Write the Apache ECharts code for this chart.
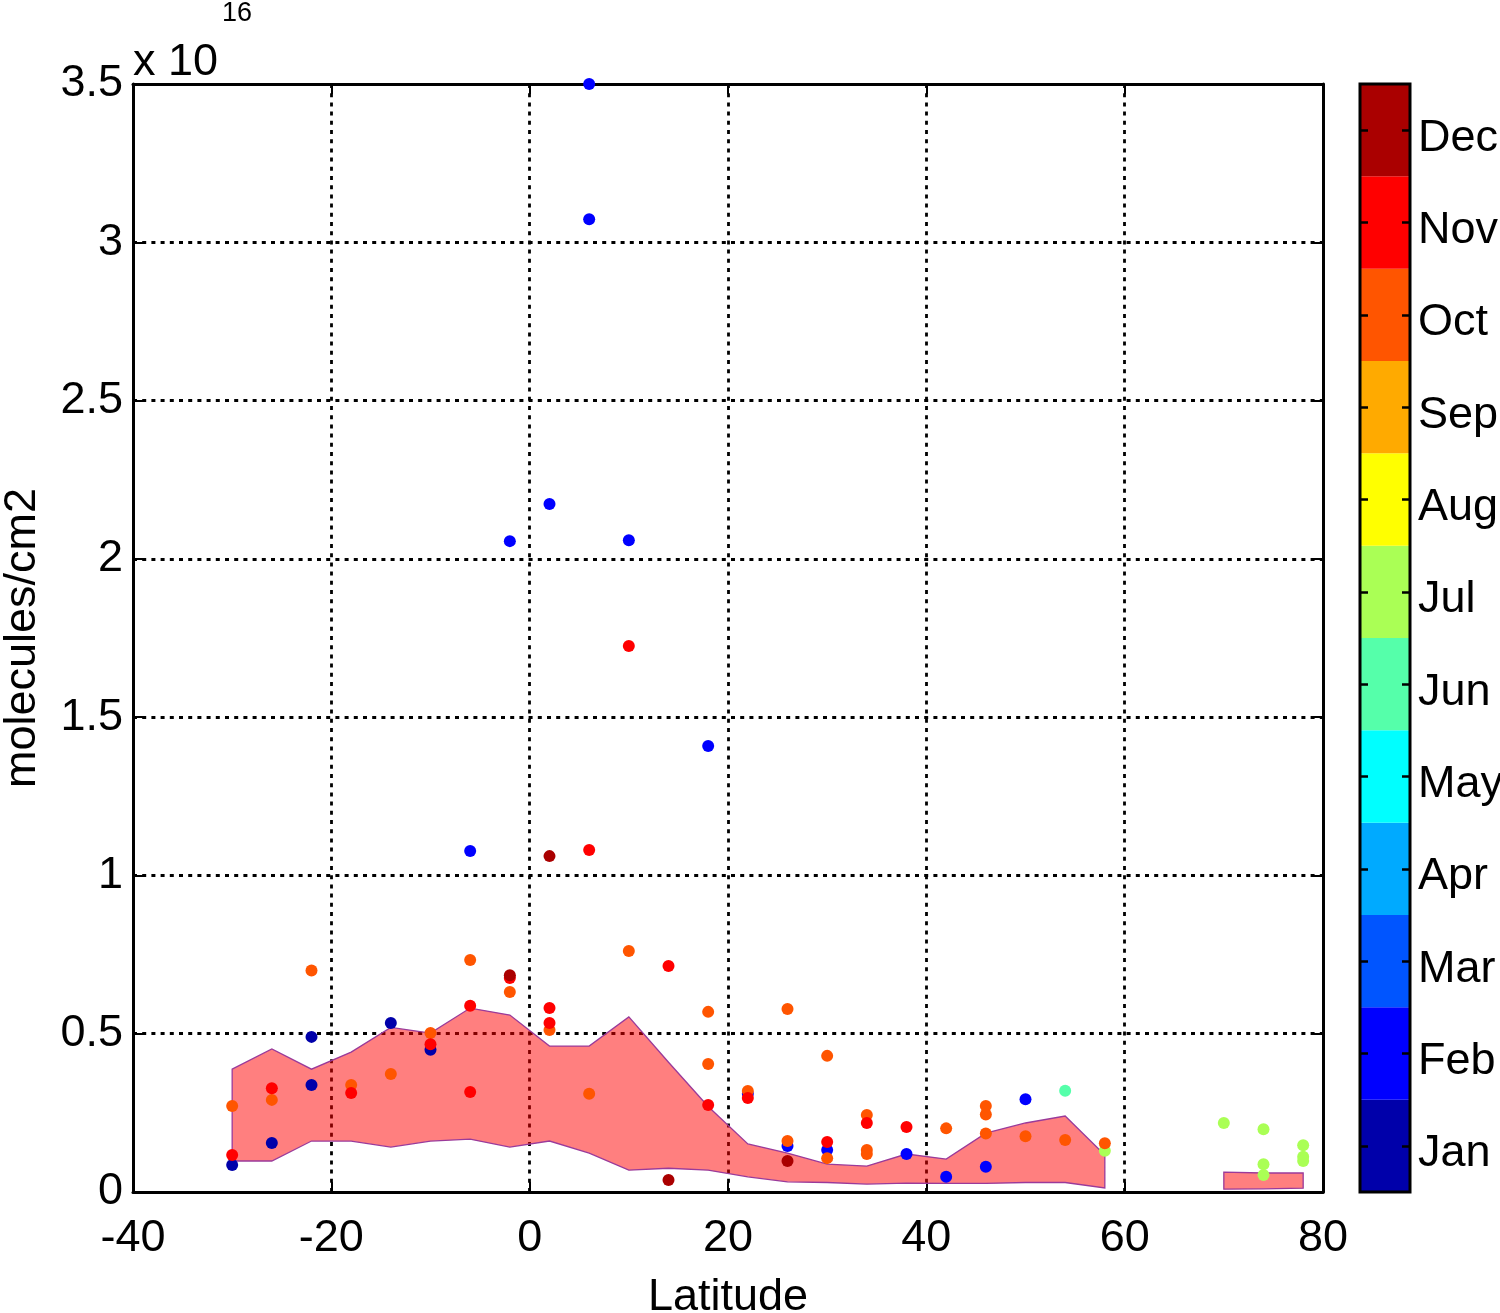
<!DOCTYPE html>
<html>
<head>
<meta charset="utf-8">
<title>molecules/cm2 vs latitude</title>
<script src="https://cdn.jsdelivr.net/npm/echarts@6/dist/echarts.min.js"></script>
<style>
  html, body { margin: 0; padding: 0; background: #fff; }
  #chart { width: 1500px; height: 1313px; }
</style>
</head>
<body>
<div id="chart"></div>
<script>
  // values are in units of 1e16 molecules/cm2
  var months = ['Jan', 'Feb', 'Mar', 'Apr', 'May', 'Jun', 'Jul', 'Aug', 'Sep', 'Oct', 'Nov', 'Dec']
  var monthColors = ['#0000aa', '#0000ff', '#0055ff', '#00aaff', '#00ffff', '#55ffaa',
    '#aaff55', '#ffff00', '#ffaa00', '#ff5500', '#ff0000', '#aa0000']

  var janPoints = [[-30, 0.085], [-26, 0.155], [-22, 0.49], [-22, 0.338], [-14, 0.534], [-10, 0.449]]
  var febPoints = [[6, 3.5], [6, 3.073], [2, 2.173], [-2, 2.056], [10, 2.059], [18, 1.409], [-6, 1.077],
    [22, 0.31], [26, 0.145], [30, 0.133], [38, 0.12], [42, 0.048], [46, 0.08], [50, 0.293]]
  var junPoints = [[54, 0.32]]
  var julPoints = [[58, 0.13], [70, 0.218], [74, 0.198], [74, 0.088], [74, 0.054], [78, 0.148], [78, 0.111], [78, 0.098]]
  var octPoints = [[-30, 0.272], [-26, 0.291], [-22, 0.70], [-18, 0.338], [-14, 0.373], [-10, 0.502], [-6, 0.733],
    [-2, 0.632], [2, 0.512], [6, 0.31], [10, 0.761], [18, 0.569], [18, 0.404], [22, 0.319], [26, 0.578],
    [26, 0.161], [30, 0.43], [30, 0.107], [34, 0.243], [34, 0.133], [34, 0.12], [42, 0.201], [46, 0.272],
    [46, 0.245], [46, 0.185], [50, 0.176], [54, 0.164], [58, 0.154]]
  var novPoints = [[-30, 0.117], [-26, 0.328], [-18, 0.313], [-10, 0.467], [-6, 0.588], [-6, 0.316], [-2, 0.676],
    [2, 0.581], [2, 0.534], [6, 1.08], [10, 1.725], [14, 0.714], [18, 0.275], [22, 0.297], [30, 0.158],
    [34, 0.218], [38, 0.205]]
  var decPoints = [[-2, 0.685], [2, 1.061], [14, 0.038], [26, 0.098]]

  // shaded range (low / high) per latitude bin, gap between 58 and 70
  var bandLat = [-30, -26, -22, -18, -14, -10, -6, -2, 2, 6, 10, 14, 18, 22, 26, 30, 34, 38, 42, 46, 50, 54, 58, 62, 66, 70, 74, 78]
  var bandHigh = [0.388, 0.452, 0.388, 0.442, 0.52, 0.502, 0.581, 0.559, 0.461, 0.461, 0.553, 0.41, 0.27, 0.152,
    0.123, 0.088, 0.082, 0.12, 0.104, 0.186, 0.218, 0.24, 0.117, null, null, 0.063, 0.06, 0.06]
  var bandLow = [0.098, 0.098, 0.161, 0.161, 0.142, 0.161, 0.167, 0.142, 0.161, 0.123, 0.069, 0.075, 0.069, 0.048,
    0.032, 0.030, 0.025, 0.028, 0.027, 0.027, 0.03, 0.03, 0.013, null, null, 0.009, 0.01, 0.012]

  var xTicks = [-40, -20, 0, 20, 40, 60, 80]
  var yTicks = [0, 0.5, 1, 1.5, 2, 2.5, 3, 3.5]

  var font = 'Liberation Sans, Arial, Helvetica, sans-serif'
  var black = '#000'
  var gridDots = { color: black, width: 2.8, type: [4, 5.2] }

  var bandData = bandLat.map(function (x, i) { return [x, bandLow[i], bandHigh[i]] })

  var pointSets = [
    { m: 0, data: janPoints }, { m: 1, data: febPoints }, { m: 5, data: junPoints },
    { m: 6, data: julPoints }, { m: 9, data: octPoints }, { m: 10, data: novPoints }, { m: 11, data: decPoints }
  ]

  // one polygon per unbroken run of the band, drawn from the first point of the run
  function renderBand (params, api) {
    var i = params.dataIndex
    if (bandHigh[i] === null || (i > 0 && bandHigh[i - 1] !== null)) return null
    var top = []
    var bottom = []
    for (var j = i; j < bandLat.length && bandHigh[j] !== null; j++) {
      top.push(api.coord([bandLat[j], bandHigh[j]]))
      bottom.unshift(api.coord([bandLat[j], bandLow[j]]))
    }
    return {
      type: 'polygon',
      shape: { points: top.concat(bottom) },
      style: { fill: 'rgba(255,0,0,0.5)', stroke: '#9a3a9a', lineWidth: 1.3 }
    }
  }

  function valAxis (pos, min, max, step, showLabel) {
    return {
      type: 'value',
      gridIndex: 0,
      position: pos,
      min: min,
      max: max,
      interval: step,
      axisLine: { show: true, onZero: false, lineStyle: { color: black, width: 3 } },
      axisTick: { show: true, inside: true, length: 10, lineStyle: { color: black, width: 2 } },
      axisLabel: { show: showLabel, color: black, fontSize: 45, fontFamily: font, margin: 10 },
      splitLine: { show: false }
    }
  }

  // colour bar tick rows: left-side axes shifted into the bar, ticks pointing left
  function cbTickAxis (offset) {
    return {
      type: 'category',
      gridIndex: 1,
      position: 'left',
      offset: offset,
      data: months,
      z: 10,
      axisLine: { show: false },
      axisTick: { show: true, inside: false, alignWithLabel: true, length: 8, lineStyle: { color: black, width: 2.5 } },
      axisLabel: { show: false },
      splitLine: { show: false }
    }
  }

  var xBottom = valAxis('bottom', xTicks[0], xTicks[xTicks.length - 1], 20, true)
  xBottom.axisLabel.margin = 24
  xBottom.splitLine = { show: true, lineStyle: gridDots }
  xBottom.name = 'Latitude'
  xBottom.nameLocation = 'middle'
  xBottom.nameGap = 83
  xBottom.nameTextStyle = { color: black, fontSize: 45, fontFamily: font }

  var yLeft = valAxis('left', yTicks[0], yTicks[yTicks.length - 1], 0.5, true)
  yLeft.axisLabel.padding = [8, 0, 0, 0]
  yLeft.splitLine = { show: true, lineStyle: gridDots }
  yLeft.name = 'molecules/cm2'
  yLeft.nameLocation = 'middle'
  yLeft.nameGap = 88
  yLeft.nameTextStyle = { color: black, fontSize: 45, fontFamily: font }

  var series = [
    {
      name: 'range',
      type: 'custom',
      xAxisIndex: 0,
      yAxisIndex: 0,
      data: bandData,
      encode: { x: 0, y: [1, 2] },
      renderItem: renderBand,
      z: 1
    }
  ]

  pointSets.forEach(function (p) {
    series.push({
      name: months[p.m],
      type: 'scatter',
      xAxisIndex: 0,
      yAxisIndex: 0,
      data: p.data,
      symbol: 'circle',
      symbolSize: 12,
      itemStyle: { color: monthColors[p.m], opacity: 1 },
      z: 3
    })
  })

  // colour bar: one bar per month
  series.push({
    type: 'bar',
    xAxisIndex: 2,
    yAxisIndex: 2,
    barWidth: '100%',
    barCategoryGap: 0,
    data: months.map(function (m, i) { return { value: 1, itemStyle: { color: monthColors[i] } } }),
    z: 1
  })

  var option = {
    animation: false,
    backgroundColor: '#fff',
    grid: [
      { left: 133, right: 177, top: 84, bottom: 121, outerBoundsMode: 'none', containLabel: false },
      { left: 1360, width: 50, top: 84, bottom: 121, outerBoundsMode: 'none', containLabel: false }
    ],
    xAxis: [
      xBottom,
      valAxis('top', xTicks[0], xTicks[xTicks.length - 1], 20, false),
      { type: 'value', gridIndex: 1, min: 0, max: 1, show: false }
    ],
    yAxis: [
      yLeft,
      valAxis('right', yTicks[0], yTicks[yTicks.length - 1], 0.5, false),
      {
        type: 'category',
        gridIndex: 1,
        position: 'right',
        data: months,
        z: 10,
        axisLine: { show: false },
        axisTick: { show: false },
        axisLabel: {
          color: black,
          fontSize: 45,
          fontFamily: font,
          margin: 8,
          verticalAlign: 'top',
          lineHeight: 16
        },
        splitLine: { show: false }
      },
      cbTickAxis(-8),
      cbTickAxis(-50)
    ],
    series: series,
    graphic: [
      {
        type: 'text',
        left: 133,
        top: 40,
        style: { text: 'x 10', fill: black, font: '45px ' + font }
      },
      {
        type: 'text',
        left: 222,
        top: 0,
        style: { text: '16', fill: black, font: '27px ' + font }
      },
      // colour bar frame
      {
        type: 'rect',
        shape: { x: 1360, y: 84, width: 50, height: 1108 },
        style: { fill: 'none', stroke: black, lineWidth: 3 },
        z: 10
      }
    ]
  }

  var chart = echarts.init(document.getElementById('chart'), null, { renderer: 'canvas' })
  chart.setOption(option)
</script>
</body>
</html>
